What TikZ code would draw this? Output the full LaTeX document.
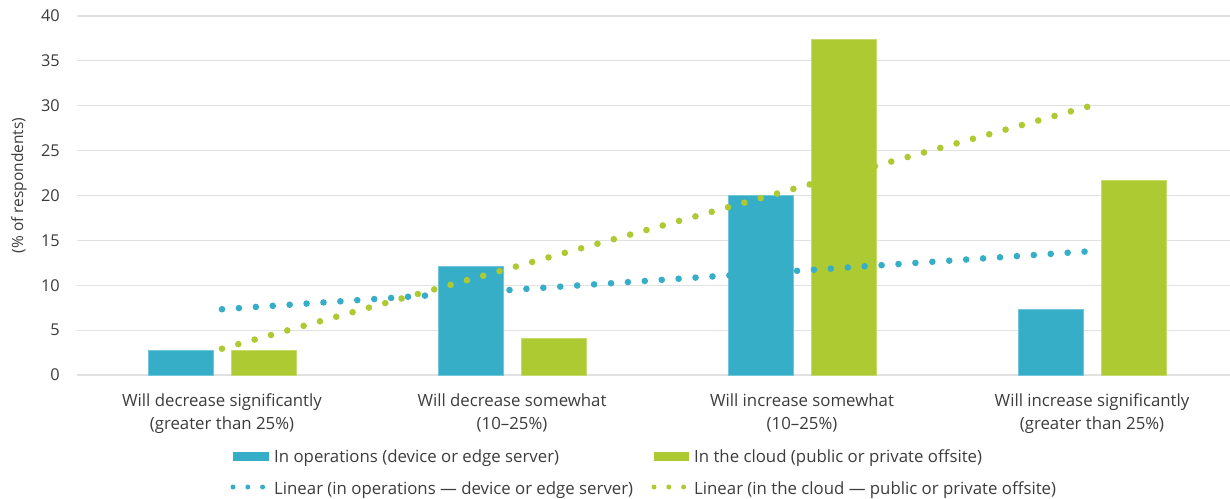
\documentclass[tikz,border=0pt]{standalone}
\usepackage{fontspec}
\setmainfont{Open Sans}
\definecolor{opsblue}{RGB}{54,174,200}
\definecolor{cloudgreen}{RGB}{173,202,50}
\definecolor{gridgray}{RGB}{225,225,225}
\definecolor{labelgray}{RGB}{60,60,60}
% value -> vertical position (0 % at y=123, 8.975 units per percent)
\newcommand{\vy}[1]{123+8.975*(#1)}
\begin{document}
\begin{tikzpicture}[x=1pt,y=1pt,
  font=\fontsize{16.8}{23}\selectfont, text=labelgray,
  gridline/.style={gridgray, line width=1.2pt},
  ticklabel/.style={anchor=east, inner sep=0pt, font=\fontsize{16.3}{20}\selectfont},
  catlabel/.style={anchor=base, align=center, inner sep=0pt},
  legtext/.style={anchor=base west, inner sep=0pt},
  opsbar/.style={fill=opsblue, draw=opsblue!70!white, line width=0.6pt},
  cloudbar/.style={fill=cloudgreen, draw=cloudgreen!70!white, line width=0.6pt},
  trendline/.style={line width=6.6pt, line cap=round, dash pattern=on 0pt off 16.95pt},
  legdots/.style={line width=5pt, line cap=round, dash pattern=on 0pt off 14.8pt}]
\useasboundingbox (0,0) rectangle (1230,498);

% horizontal grid and value axis labels
\foreach \v in {0,5,...,40}{
  \draw[gridline] (77,{\vy{\v}}) -- (1230,{\vy{\v}});
  \node[ticklabel] (tick\v) at (60,{\vy{\v}}) {\v};
}
\node[rotate=90, inner sep=0pt, font=\fontsize{15.5}{18}\selectfont] (ytitle) at (19,312.5) {(\% of respondents)};

% bars: category centres 222 + 290 k, bar width 65, gap 18
\foreach \c/\a/\b [count=\k] in {222/2.8/2.7, 512/12.07/4.08, 802/20.0/37.4, 1092/7.35/21.7}{
  \draw[opsbar] ({\c-74},123) rectangle ({\c-9},{\vy{\a}});
  \draw[cloudbar] ({\c+9},123) rectangle ({\c+74},{\vy{\b}});
}

% category labels (anchored on the baseline of the second line)
\node[catlabel] (cat1) at (222,69) {Will decrease significantly\\(greater than 25\%)};
\node[catlabel] (cat2) at (512,69) {Will decrease somewhat\\(10–25\%)};
\node[catlabel] (cat3) at (802,69) {Will increase somewhat\\(10–25\%)};
\node[catlabel] (cat4) at (1092,69) {Will increase significantly\\(greater than 25\%)};

% linear trend lines
\coordinate (bs) at (222,{\vy{7.33}});
\coordinate (be) at (1092,{\vy{13.8}});
\coordinate (gs) at (222,{\vy{2.93}});
\coordinate (ge) at (1092,{\vy{30.03}});
\draw[trendline, opsblue] (bs) -- (be);
\draw[trendline, cloudgreen] (gs) -- (ge);

% legend
\fill[opsblue] (233,37) rectangle (269,46);
\node[legtext] (leg1) at (274,36) {In operations (device or edge server)};
\fill[cloudgreen] (654,37) rectangle (689,46);
\node[legtext] (leg2) at (694,36) {In the cloud (public or private offsite)};
\draw[legdots, opsblue] (233,11) -- (263,11);
\node[legtext] (leg3) at (274,4) {Linear (in operations — device or edge server)};
\draw[legdots, cloudgreen] (654,11) -- (684,11);
\node[legtext] (leg4) at (694,4) {Linear (in the cloud — public or private offsite)};
\end{tikzpicture}
\end{document}
